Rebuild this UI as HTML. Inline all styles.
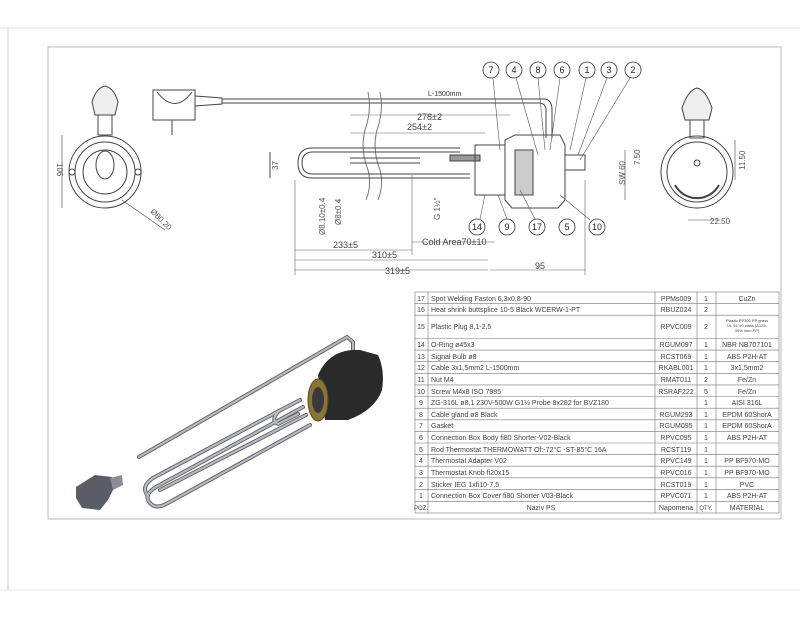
<!DOCTYPE html>
<html><head><meta charset="utf-8"><style>
html,body{margin:0;padding:0;background:#fff;}
body{width:800px;height:618px;overflow:hidden;position:relative;font-family:"Liberation Sans",sans-serif;}
svg{position:absolute;left:0;top:0;}
</style></head><body>
<svg width="800" height="618" viewBox="0 0 800 618" xmlns="http://www.w3.org/2000/svg" font-family="Liberation Sans, sans-serif">
<line x1="0" y1="28" x2="800" y2="28" stroke="#e4e4e4"/>
<line x1="0" y1="590" x2="800" y2="590" stroke="#e4e4e4"/>
<line x1="8" y1="28" x2="8" y2="590" stroke="#ccc"/>
<rect x="48" y="47" width="733" height="472" fill="none" stroke="#bbb"/>

<!-- left view -->
<g stroke="#444" fill="none" stroke-width="1">
<path d="M95 115 L92 102 Q96 88 105 86 Q114 88 118 102 L115 115 Z" fill="#eee"/>
<rect x="98" y="115" width="14" height="20"/>
<circle cx="105" cy="172" r="36"/><circle cx="105" cy="172" r="30"/><circle cx="105" cy="172" r="22"/>
<ellipse cx="105" cy="165" rx="9" ry="14"/>
<circle cx="72" cy="172" r="3"/><circle cx="138" cy="172" r="3"/>
<line x1="62" y1="135" x2="62" y2="208" stroke-width=".6"/>
<line x1="122" y1="200" x2="165" y2="230" stroke-width=".6"/>
</g>
<text x="57" y="163" font-size="8" fill="#555" transform="rotate(90 57 163)">106</text>
<text x="150" y="212" font-size="8" fill="#555" transform="rotate(45 150 212)">Ø80.20</text>

<!-- plug + cable -->
<g stroke="#444" fill="none">
<path d="M153 90 H195 V120 H153 Z"/><path d="M157 92 Q175 115 192 92"/>
<path d="M195 96 L222 98 V104 L195 106"/>
<line x1="172" y1="120" x2="172" y2="135"/>
<line x1="222" y1="99" x2="545" y2="99"/><line x1="222" y1="103" x2="540" y2="103"/>
<path d="M545 99 Q552 100 552 110 V138 M540 103 Q546 104 546 110 V138"/>
<path d="M368 92 Q372 110 365 130 Q360 150 368 170 Q372 185 366 200" stroke="#777"/>
<path d="M380 92 Q384 110 377 130 Q372 150 380 170 Q384 185 378 200" stroke="#777"/>
</g>
<text x="428" y="96" font-size="7" fill="#333">L-1500mm</text>

<!-- heater -->
<g stroke="#444" fill="none" stroke-width="1">
<path d="M460 148 H312 Q298 148 298 163 Q298 178 312 178 H470"/>
<path d="M460 152 H313 Q302 152 302 163 Q302 174 313 174 H470"/>
<line x1="350" y1="158" x2="420" y2="158"/><line x1="350" y1="163" x2="420" y2="163"/>
<rect x="450" y="155" width="30" height="6" fill="#999"/>
<rect x="475" y="145" width="30" height="50"/>
<path d="M505 140 L515 135 H560 L565 145 V200 L558 208 H512 L505 200 Z"/>
<rect x="515" y="150" width="18" height="45" fill="#ccc"/>
<rect x="565" y="155" width="20" height="15"/>
<line x1="270" y1="152" x2="270" y2="178"/>
</g>
<!-- dimensions -->
<g stroke="#666" stroke-width=".6" fill="none">
<line x1="350" y1="115" x2="510" y2="115"/><line x1="350" y1="133" x2="485" y2="133"/>
<line x1="295" y1="250" x2="412" y2="250"/><line x1="295" y1="260" x2="488" y2="260"/>
<line x1="295" y1="270" x2="488" y2="270"/><line x1="490" y1="270" x2="585" y2="270"/>
<line x1="412" y1="242" x2="495" y2="242"/>
<line x1="295" y1="180" x2="295" y2="275"/><line x1="585" y1="180" x2="585" y2="275"/>
<line x1="412" y1="175" x2="412" y2="255"/>
</g>
<g font-size="9" fill="#444">
<text x="417" y="120">278±2</text><text x="407" y="130">254±2</text>
<text x="333" y="248">233±5</text><text x="372" y="258">310±5</text><text x="385" y="274">319±5</text>
<text x="535" y="269">95</text><text x="422" y="245" font-size="9">Cold Area70±10</text>
</g>
<g font-size="8" fill="#555">
<text x="278" y="170" transform="rotate(-90 278 170)">37</text>
<text x="325" y="235" transform="rotate(-90 325 235)">Ø8.10±0.4</text>
<text x="341" y="225" transform="rotate(-90 341 225)">Ø8±0.4</text>
<text x="440" y="220" transform="rotate(-90 440 220)">G 1½"</text>
</g>
<!-- balloons -->
<g stroke="#333" fill="#fff" stroke-width=".8">
<circle cx="491" cy="70" r="8"/><circle cx="514" cy="70" r="8"/><circle cx="538" cy="70" r="8"/><circle cx="562" cy="70" r="8"/><circle cx="587" cy="70" r="8"/><circle cx="609" cy="70" r="8"/><circle cx="633" cy="70" r="8"/>
<circle cx="477" cy="227" r="8"/><circle cx="507" cy="227" r="8"/><circle cx="537" cy="227" r="8"/><circle cx="567" cy="227" r="8"/><circle cx="597" cy="227" r="8"/>
</g>
<g stroke="#555" stroke-width=".6">
<line x1="493" y1="78" x2="500" y2="150"/><line x1="516" y1="78" x2="538" y2="155"/><line x1="538" y1="78" x2="545" y2="150"/><line x1="560" y1="78" x2="550" y2="150"/><line x1="586" y1="78" x2="570" y2="150"/><line x1="607" y1="78" x2="578" y2="155"/><line x1="630" y1="78" x2="580" y2="160"/>
<line x1="480" y1="219" x2="485" y2="195"/><line x1="507" y1="219" x2="498" y2="195"/><line x1="535" y1="219" x2="520" y2="190"/><line x1="590" y1="220" x2="560" y2="195"/>
</g>
<g font-size="9" fill="#222" text-anchor="middle">
<text x="491" y="73">7</text><text x="514" y="73">4</text><text x="538" y="73">8</text><text x="562" y="73">6</text><text x="587" y="73">1</text><text x="609" y="73">3</text><text x="633" y="73">2</text>
<text x="477" y="230">14</text><text x="507" y="230">9</text><text x="537" y="230">17</text><text x="567" y="230">5</text><text x="597" y="230">10</text>
</g>

<!-- right view -->
<g stroke="#444" fill="none">
<path d="M685 120 L682 108 Q688 90 697 88 Q706 90 712 108 L709 120 Z" fill="#eee"/>
<rect x="690" y="120" width="14" height="18"/>
<circle cx="697" cy="172" r="36"/><circle cx="697" cy="172" r="30"/>
<path d="M675 185 A25 25 0 0 0 719 185" stroke-width="2"/>
<circle cx="697" cy="163" r="3"/>
<line x1="625" y1="150" x2="625" y2="200" stroke-width=".6"/><line x1="735" y1="140" x2="735" y2="180" stroke-width=".6"/>
<line x1="688" y1="220" x2="720" y2="220" stroke-width=".6"/>
</g>
<g font-size="8" fill="#555">
<text x="625" y="185" transform="rotate(-90 625 185)">SW 60</text>
<text x="640" y="165" transform="rotate(-90 640 165)">7.50</text>
<text x="745" y="170" transform="rotate(-90 745 170)">11.50</text>
<text x="710" y="224">22.50</text>
</g>

<!-- 3D view -->
<g fill="none" stroke-linecap="round">
<g stroke="#666" stroke-width="4">
<path d="M139 457 L347 337 L353 342 V352"/>
<path d="M303 407 L156 487 Q143 495 150 503 Q156 510 168 503 L310 425"/>
<path d="M306 415 L160 490"/>
<path d="M300 400 L279 411 Q270 420 278 424 L298 414"/>
<path d="M279 411 L153 478 Q140 487 148 496"/>
</g>
<g stroke="#b8bcc4" stroke-width="2">
<path d="M139 457 L347 337 L353 342 V352"/>
<path d="M303 407 L156 487 Q143 495 150 503 Q156 510 168 503 L310 425"/>
<path d="M306 415 L160 490"/>
<path d="M300 400 L279 411 Q270 420 278 424 L298 414"/>
<path d="M279 411 L153 478 Q140 487 148 496"/>
</g>
</g>
<path d="M318 375 Q330 348 360 350 L378 355 Q385 370 382 390 Q375 410 348 420 L325 420 Z" fill="#2a2a2a"/>
<ellipse cx="318" cy="400" rx="10" ry="21" fill="#8a7438" stroke="#5a4a20"/>
<ellipse cx="318" cy="400" rx="6" ry="13" fill="#3a3a3a"/>
<path d="M76 487 L95 475 L112 477 L114 488 L108 500 L100 510 L82 508 L76 498 Z" fill="#5a5d66"/>
<path d="M110 478 L122 475 L123 485 L113 490 Z" fill="#8a8d96"/>

<!-- table -->
<g stroke="#777" stroke-width=".6" fill="none">
<rect x="415" y="292" width="364" height="221"/>
<line x1="428" y1="292" x2="428" y2="513"/><line x1="655" y1="292" x2="655" y2="513"/><line x1="697" y1="292" x2="697" y2="513"/><line x1="716" y1="292" x2="716" y2="513"/>
<line x1="415" y1="303.6" x2="779" y2="303.6"/><line x1="415" y1="315.2" x2="779" y2="315.2"/><line x1="415" y1="338.5" x2="779" y2="338.5"/>
<line x1="415" y1="350.1" x2="779" y2="350.1"/><line x1="415" y1="361.7" x2="779" y2="361.7"/><line x1="415" y1="373.3" x2="779" y2="373.3"/><line x1="415" y1="384.9" x2="779" y2="384.9"/><line x1="415" y1="396.5" x2="779" y2="396.5"/><line x1="415" y1="408.2" x2="779" y2="408.2"/><line x1="415" y1="419.8" x2="779" y2="419.8"/><line x1="415" y1="431.4" x2="779" y2="431.4"/><line x1="415" y1="443" x2="779" y2="443"/><line x1="415" y1="454.6" x2="779" y2="454.6"/><line x1="415" y1="466.2" x2="779" y2="466.2"/><line x1="415" y1="477.8" x2="779" y2="477.8"/><line x1="415" y1="489.4" x2="779" y2="489.4"/><line x1="415" y1="501.4" x2="779" y2="501.4"/>
</g>
<g font-size="7" fill="#444">
<g text-anchor="middle">
<text x="421" y="301">17</text><text x="421" y="312">16</text><text x="421" y="329">15</text><text x="421" y="347">14</text><text x="421" y="359">13</text><text x="421" y="370">12</text><text x="421" y="382">11</text><text x="421" y="394">10</text><text x="421" y="405">9</text><text x="421" y="417">8</text><text x="421" y="428">7</text><text x="421" y="440">6</text><text x="421" y="452">5</text><text x="421" y="463">4</text><text x="421" y="475">3</text><text x="421" y="487">2</text><text x="421" y="498">1</text><text x="421" y="510" font-size="6">POZ.</text>
<text x="676" y="301">PPMs009</text><text x="676" y="312">RBUZ024</text><text x="676" y="329">RPVC009</text><text x="676" y="347">RGUM097</text><text x="676" y="359">RCST069</text><text x="676" y="370">RKABL001</text><text x="676" y="382">RMAT011</text><text x="676" y="394">RSRAF222</text><text x="676" y="417">RGUM293</text><text x="676" y="428">RGUM095</text><text x="676" y="440">RPVC095</text><text x="676" y="452">RCST119</text><text x="676" y="463">RPVC149</text><text x="676" y="475">RPVC016</text><text x="676" y="487">RCST019</text><text x="676" y="498">RPVC071</text><text x="676" y="510">Napomena</text>
<text x="706" y="301">1</text><text x="706" y="312">2</text><text x="706" y="329">2</text><text x="706" y="347">1</text><text x="706" y="359">1</text><text x="706" y="370">1</text><text x="706" y="382">2</text><text x="706" y="394">5</text><text x="706" y="405">1</text><text x="706" y="417">1</text><text x="706" y="428">1</text><text x="706" y="440">1</text><text x="706" y="452">1</text><text x="706" y="463">1</text><text x="706" y="475">1</text><text x="706" y="487">1</text><text x="706" y="498">1</text><text x="706" y="510" font-size="6">QTY.</text>
<text x="747" y="301">CuZn</text><text x="747" y="347">NBR NB707101</text><text x="747" y="359">ABS P2H-AT</text><text x="747" y="370">3x1,5mm2</text><text x="747" y="382">Fe/Zn</text><text x="747" y="394">Fe/Zn</text><text x="747" y="405">AISI 316L</text><text x="747" y="417">EPDM 60ShorA</text><text x="747" y="428">EPDM 60ShorA</text><text x="747" y="440">ABS P2H-AT</text><text x="747" y="463">PP BF970-MO</text><text x="747" y="475">PP BF970-MO</text><text x="747" y="487">PVC</text><text x="747" y="498">ABS P2H-AT</text><text x="747" y="510">MATERIAL</text>
<text x="747" y="322" font-size="4">Plastic PP300 PP grass</text><text x="747" y="327" font-size="4">UL 94 V0 class (A125-</text><text x="747" y="332" font-size="4">30% inno PP)</text>
<text x="541" y="510">Naziv PS</text>
</g>
<text x="431" y="301">Spot Welding Faston 6,3x0,8-90</text>
<text x="431" y="312">Heat shrink buttsplice 10-5 Black WCERW-1-PT</text>
<text x="431" y="329">Plastic Plug 8,1-2,5</text>
<text x="431" y="347">O-Ring ø45x3</text>
<text x="431" y="359">Signal Bulb ø8</text>
<text x="431" y="370">Cable 3x1,5mm2 L-1500mm</text>
<text x="431" y="382">Nut M4</text>
<text x="431" y="394">Screw M4x8 ISO 7985</text>
<text x="431" y="405">ZG-316L ø8,1 230V-500W G1½ Probe 8x282 for BVZ180</text>
<text x="431" y="417">Cable gland ø8 Black</text>
<text x="431" y="428">Gasket</text>
<text x="431" y="440">Connection Box Body fi80 Shorter-V02-Black</text>
<text x="431" y="452">Rod Thermostat THERMOWATT Of:-72°C -ST-85°C 16A</text>
<text x="431" y="463">Thermostat Adapter V02</text>
<text x="431" y="475">Thermostat Knob fi20x15</text>
<text x="431" y="487">Sticker IEG 1xfi10-7,5</text>
<text x="431" y="498">Connection Box Cover fi80 Shorter V03-Black</text>
</g>
</svg>
</body></html>
